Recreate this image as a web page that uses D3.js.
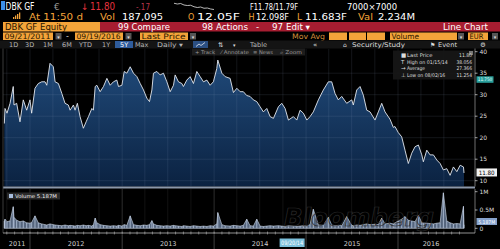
<!DOCTYPE html>
<html>
<head>
<meta charset="utf-8">
<script src="https://cdn.jsdelivr.net/npm/d3@7"></script>
<style>
  html, body { margin: 0; padding: 0; background: #000; overflow: hidden; }
  svg { display: block; font-family: 'DejaVu Sans', 'Liberation Sans', sans-serif; }
</style>
</head>
<body>
<script>
// price history (dates as decimal years)
const priceDates = [
  2011.721, 2011.728, 2011.750, 2011.783, 2011.818, 2011.826, 2011.855, 2011.891, 2011.927, 2011.964,
  2012.000, 2012.018, 2012.054, 2012.090, 2012.127, 2012.163, 2012.182, 2012.217, 2012.253, 2012.272,
  2012.308, 2012.345, 2012.380, 2012.416, 2012.435, 2012.471, 2012.489, 2012.514, 2012.543, 2012.579,
  2012.609, 2012.634, 2012.671, 2012.688, 2012.707, 2012.725, 2012.761, 2012.797, 2012.834, 2012.870,
  2012.905, 2012.942, 2012.960, 2012.997, 2013.022, 2013.051, 2013.087, 2013.123, 2013.160, 2013.196,
  2013.232, 2013.268, 2013.297, 2013.323, 2013.340, 2013.377, 2013.413, 2013.449, 2013.486, 2013.522,
  2013.558, 2013.576, 2013.612, 2013.649, 2013.666, 2013.703, 2013.739, 2013.775, 2013.812, 2013.848,
  2013.884, 2013.921, 2013.957, 2013.992, 2014.029, 2014.040, 2014.084, 2014.120, 2014.174, 2014.210,
  2014.247, 2014.283, 2014.318, 2014.355, 2014.391, 2014.427, 2014.464, 2014.500, 2014.536, 2014.573,
  2014.609, 2014.645, 2014.699, 2014.736, 2014.772, 2014.808, 2014.862, 2014.899, 2014.935, 2014.971,
  2015.008, 2015.043, 2015.079, 2015.134, 2015.188, 2015.242, 2015.279, 2015.315, 2015.351, 2015.388,
  2015.442, 2015.497, 2015.514, 2015.551, 2015.587, 2015.623, 2015.660, 2015.696, 2015.750, 2015.786,
  2015.823, 2015.859, 2015.913, 2015.949, 2015.967, 2016.003, 2016.040, 2016.076, 2016.112, 2016.149,
  2016.185, 2016.221, 2016.258, 2016.275, 2016.312, 2016.348, 2016.384, 2016.421, 2016.457, 2016.492,
  2016.529, 2016.565, 2016.601, 2016.638, 2016.674, 2016.710, 2016.716,
];
const priceValues = [
  23.3, 26.8, 25.7, 28.0, 31.9, 27.6, 28.0, 23.7, 28.8, 26.4,
  28.8, 25.7, 31.5, 32.6, 33.0, 33.0, 32.2, 37.3, 36.5, 33.0,
  32.6, 30.3, 28.0, 27.6, 26.4, 27.6, 26.4, 28.0, 24.9, 22.2,
  23.7, 24.9, 26.8, 26.4, 31.9, 32.2, 30.7, 31.9, 33.8, 32.2,
  33.0, 33.4, 31.9, 32.2, 35.4, 35.0, 36.5, 35.0, 34.2, 32.6,
  31.1, 29.2, 28.4, 31.1, 35.0, 35.4, 34.6, 35.0, 33.0, 30.7,
  32.2, 34.6, 33.0, 32.6, 31.9, 33.4, 34.2, 32.6, 35.4, 34.2,
  33.0, 33.4, 32.2, 33.0, 36.1, 38.06, 35.0, 34.2, 33.8, 30.5,
  31.5, 30.7, 30.7, 29.8, 29.6, 28.8, 28.4, 27.2, 26.0, 26.8,
  24.9, 24.5, 27.2, 28.0, 26.8, 24.1, 24.9, 24.1, 26.4, 25.7,
  24.1, 24.9, 26.0, 28.8, 31.1, 33.0, 33.0, 30.3, 28.8, 29.6,
  28.0, 28.8, 27.6, 31.1, 31.9, 29.9, 26.4, 26.0, 24.1, 26.0,
  28.0, 26.0, 24.3, 22.4, 22.6, 21.2, 20.2, 17.1, 14.0, 16.4,
  17.9, 18.3, 16.0, 14.4, 17.1, 16.0, 16.0, 14.8, 14.0, 12.5,
  12.8, 11.25, 13.2, 12.1, 13.6, 13.2, 11.8,
];
// volume in axis units (top label = 1M)
const volumeValues = [
  0.20, 0.25, 0.18, 0.20, 0.59, 0.30, 0.22, 0.18, 0.20, 0.15,
  0.14, 0.16, 0.34, 0.15, 0.12, 0.10, 0.09, 0.12, 0.10, 0.09,
  0.08, 0.07, 0.09, 0.07, 0.08, 0.07, 0.06, 0.08, 0.07, 0.09,
  0.07, 0.08, 0.06, 0.10, 0.28, 0.15, 0.10, 0.08, 0.07, 0.06,
  0.07, 0.06, 0.08, 0.06, 0.10, 0.08, 0.34, 0.10, 0.08, 0.07,
  0.09, 0.08, 0.10, 0.21, 0.12, 0.08, 0.07, 0.06, 0.07, 0.06,
  0.08, 0.07, 0.06, 0.05, 0.07, 0.06, 0.05, 0.07, 0.06, 0.05,
  0.06, 0.05, 0.07, 0.06, 0.12, 0.43, 0.10, 0.07, 0.06, 0.08,
  0.07, 0.06, 0.08, 0.25, 0.07, 0.06, 0.25, 0.06, 0.05, 0.06,
  0.07, 0.06, 0.07, 0.06, 0.05, 0.07, 0.06, 0.05, 0.06, 0.07,
  0.06, 0.10, 0.52, 0.09, 0.08, 0.30, 0.09, 0.07, 0.08, 0.07,
  0.32, 0.08, 0.07, 0.09, 0.08, 0.10, 0.12, 0.10, 0.11, 0.10,
  0.28, 0.12, 0.14, 0.12, 0.15, 0.20, 0.25, 0.32, 0.22, 0.20,
  0.18, 0.35, 0.16, 0.15, 0.14, 0.13, 0.12, 0.14, 0.15, 0.97,
  0.20, 0.15, 0.12, 0.13, 0.12, 0.60, 0.10,
];
// intraday sparkline in the header
const intradayValues = [12.05, 12.02, 12.04, 11.98, 11.96, 11.97, 11.91, 11.88, 11.9, 11.85, 11.86, 11.82, 11.8];

const priceTicks = [10, 15, 20, 25, 30, 35, 40];
const volumeTicks = [0, 0.5, 1];
const volumeTickLabels = ['0', '0.5M', '1M'];
const yearLabels = ['2011', '2012', '2013', '2014', '2015', '2016'];
const legendRows = [
  { icon: '■', label: 'Last Price', value: '11.80' },
  { icon: 'T', label: 'High on 01/15/14', value: '38.056' },
  { icon: '→', label: 'Average', value: '27.366' },
  { icon: '⊥', label: 'Low on 08/02/16', value: '11.254' },
];
const rangeButtons = ['1D', '3D', '1M', '6M', 'YTD', '1Y', '5Y', 'Max'];

const width = 500;
const height = 249;
const orange = '#f3a43a';
const svg = d3.select('body').append('svg').attr('width', width).attr('height', height);

function fromYear(t) {
  const y = Math.floor(t);
  const a = new Date(y, 0, 1);
  const b = new Date(y + 1, 0, 1);
  return new Date(+a + (t - y) * (b - a));
}

function txt(g, x, y, s, fill, size, len, anchor) {
  const t = g.append('text')
    .attr('x', x)
    .attr('y', y)
    .attr('fill', fill)
    .attr('font-size', size)
    .attr('text-anchor', anchor || 'start')
    .text(s);
  if (len) t.attr('textLength', len).attr('lengthAdjust', 'spacingAndGlyphs');
  return t;
}

svg.append('rect').attr('width', width).attr('height', height).attr('fill', '#000');

const data = priceDates.map((d, i) => ({
  date: fromYear(d),
  price: priceValues[i],
  volume: volumeValues[i],
}));

const startDate = new Date(2011, 8, 21);
const endDate = new Date(2016, 8, 19);
const x = d3.scaleTime().domain([startDate, endDate]).range([4.3, 464]);
const yPrice = d3.scaleLinear().domain([10, 40]).range([180.7, 51.7]);
const yVol = d3.scaleLinear().domain([0, 1]).range([228.3, 191.7]);
const plotLeft = 3;
const plotRight = 475;
const priceBottom = 186.5;

// ---------- header ----------
const head = svg.append('g');
head.append('rect').attr('x', 1).attr('y', 1).attr('width', 4).attr('height', 9).attr('fill', '#3b8fe8');
txt(head, 5.5, 9.5, 'DBK GF', '#fff', 10, 29);
txt(head, 54, 9.5, '€', '#9a9a9a', 9);
txt(head, 81, 9.5, '↓', '#e6323e', 9);
txt(head, 90, 9.5, '11.80', '#e6323e', 10, 25);
txt(head, 136, 9.5, '-.17', '#b8344a', 9, 14);

const spark = head.append('g');
const sx = d3.scaleLinear().domain([0, intradayValues.length - 1]).range([174, 214]);
const sy = d3.scaleLinear().domain([11.78, 12.06]).range([10, 3]);
spark.append('path')
  .datum(intradayValues)
  .attr('fill', 'none')
  .attr('stroke', '#e6e6e6')
  .attr('stroke-width', 0.8)
  .attr('d', d3.line().x((d, i) => sx(i)).y(d => sy(d)));

txt(head, 250, 9.5, 'F11.78/11.79F', '#fff', 9, 48);
txt(head, 347, 9.5, '7000×7000', '#fff', 9, 50);

// signal bars
[2, 3.5, 5, 6.5].forEach((h, i) => {
  head.append('rect').attr('x', 13 + i * 2).attr('y', 19 - h).attr('width', 1.3).attr('height', h).attr('fill', orange);
});
txt(head, 29, 19.5, 'At 11:50 d', orange, 9, 54);
txt(head, 100, 19.5, 'Vol', orange, 9, 15);
txt(head, 122, 19.5, '187,095', '#fff', 9, 41);
txt(head, 188, 19.5, 'O', orange, 8);
txt(head, 197, 19.5, '12.05F', '#fff', 9, 43);
txt(head, 248.5, 19.5, 'H', orange, 8);
txt(head, 256, 19.5, '12.098F', '#fff', 9, 33);
txt(head, 297, 19.5, 'L', orange, 9);
txt(head, 305, 19.5, '11.683F', '#fff', 9, 42);
txt(head, 358, 19.5, 'Val', orange, 9, 15);
txt(head, 378, 19.5, '2.234M', '#fff', 9, 37);

// row 3: security / function bar
head.append('rect').attr('x', 3).attr('y', 22).attr('width', 97).attr('height', 9.5).attr('fill', orange);
txt(head, 5, 30, 'DBK GF Equity', '#2a1600', 8.5, 62);
head.append('rect').attr('x', 100).attr('y', 22).attr('width', 400).attr('height', 9.5).attr('fill', '#a61d31');
txt(head, 118, 30, '99 Compare', '#fff', 8.5, 52);
txt(head, 202, 30, '98 Actions', '#fff', 8.5, 46);
txt(head, 256, 30, '-', '#fff', 8.5);
txt(head, 272, 30, '97 Edit ▾', '#fff', 8.5, 38);
txt(head, 443, 30, 'Line Chart', '#fff', 8.5, 45);

// row 4: fields
function field(x0, w, label) {
  head.append('rect').attr('x', x0).attr('y', 32.5).attr('width', w).attr('height', 7.5).attr('fill', orange);
  if (label) txt(head, x0 + 1.5, 39, label, '#2a1600', 7.5, Math.min(w - 4, label.length * 4.6));
}
function dropdown(x0) {
  head.append('rect').attr('x', x0).attr('y', 33).attr('width', 6).attr('height', 6.5).attr('fill', '#555');
  txt(head, x0 + 3, 38.5, '▾', '#ddd', 5, null, 'middle');
}
field(3, 50, '09/21/2011');
dropdown(55.5);
txt(head, 66, 39, '-', '#ccc', 8);
field(75, 48, '09/19/2016');
dropdown(125.5);
field(140, 48, 'Last Price');
dropdown(190);
txt(head, 292, 39, 'Mov Avg', '#d58d3a', 7.5, 33);
field(329, 18);
field(349, 17);
field(367, 18);
field(390, 67, 'Volume');
dropdown(458);
field(468, 20, 'EUR');
dropdown(492);

// row 5: toolbar
head.append('rect').attr('x', 0).attr('y', 40.5).attr('width', width).attr('height', 8).attr('fill', '#141414');
const btnX = [9, 25, 43, 62, 79, 102, 120, 135];
rangeButtons.forEach((b, i) => {
  if (b === '5Y') {
    head.append('rect').attr('x', 115).attr('y', 41).attr('width', 18).attr('height', 7).attr('fill', '#2f5c9c');
  }
  txt(head, btnX[i], 47, b, b === '5Y' ? '#fff' : '#b8b8b8', 6.5);
});
txt(head, 157, 47, 'Daily ▾', '#b8b8b8', 6.5, 26);
head.append('rect').attr('x', 193).attr('y', 41).attr('width', 15).attr('height', 7).attr('fill', '#2b4f82');
head.append('path').attr('d', 'M196,46.5 L199,44 L201,45.5 L205,42.5').attr('fill', 'none').attr('stroke', '#fff').attr('stroke-width', 0.7);
txt(head, 218, 47, '⇅', '#ddd', 6.5);
txt(head, 233, 47, '▾', '#ddd', 5);
txt(head, 250, 47, 'Table', '#b8b8b8', 6.5, 17);
txt(head, 313, 47, '«', '#ddd', 7);
txt(head, 343, 47, '⌂', '#ddd', 6);
txt(head, 352, 47, 'Security/Study', '#ddd', 6.5, 53);
txt(head, 430, 47, '⚑', '#ddd', 6);
txt(head, 438, 47, 'Event', '#ddd', 6.5, 19);
txt(head, 480, 47, '⚙', '#ddd', 6.5);

// ---------- price panel ----------
const defs = svg.append('defs');
const grad = defs.append('linearGradient').attr('id', 'priceFill').attr('x1', 0).attr('y1', 0).attr('x2', 0).attr('y2', 1);
grad.append('stop').attr('offset', '0%').attr('stop-color', '#204a7a');
grad.append('stop').attr('offset', '100%').attr('stop-color', '#0b2241');

const price = svg.append('g');
price.append('path')
  .datum(data)
  .attr('fill', 'url(#priceFill)')
  .attr('d', d3.area().x(d => x(d.date)).y0(priceBottom).y1(d => yPrice(d.price)));

const quarters = d3.timeMonth.every(3).range(startDate, endDate);
const grid = svg.append('g').attr('stroke', 'rgba(150,165,190,0.22)').attr('stroke-width', 0.6);
grid.selectAll('.vq')
  .data(quarters)
  .enter()
  .append('line')
  .attr('x1', d => x(d)).attr('x2', d => x(d))
  .attr('y1', 49).attr('y2', priceBottom);
grid.selectAll('.hq')
  .data(priceTicks.filter(t => t < 40))
  .enter()
  .append('line')
  .attr('x1', plotLeft).attr('x2', plotRight)
  .attr('y1', d => yPrice(d)).attr('y2', d => yPrice(d));

price.append('path')
  .datum(data)
  .attr('fill', 'none')
  .attr('stroke', '#e4e9ef')
  .attr('stroke-width', 0.9)
  .attr('stroke-linejoin', 'round')
  .attr('d', d3.line().x(d => x(d.date)).y(d => yPrice(d.price)));

// track / annotate strip
head.append('rect').attr('x', 192).attr('y', 48.5).attr('width', 113).attr('height', 7).attr('fill', '#1d1d1d');
txt(head, 195, 54, '+ Track', '#9a9a9a', 5, 20);
txt(head, 221, 54, '⁄ Annotate', '#9a9a9a', 5, 28);
txt(head, 253, 54, '≡ News', '#9a9a9a', 5, 20);
txt(head, 280, 54, '⌕ Zoom', '#9a9a9a', 5, 22);

// legend box
const lg = svg.append('g');
lg.append('rect').attr('x', 393).attr('y', 50.5).attr('width', 81).attr('height', 29).attr('fill', '#171717').attr('opacity', 0.92);
lg.append('rect').attr('x', 469).attr('y', 51).attr('width', 4).attr('height', 4).attr('fill', '#777');
legendRows.forEach((r, i) => {
  const yy = 57 + i * 6.6;
  txt(lg, 401, yy, r.icon, '#ddd', 5.5);
  txt(lg, 407, yy, r.label, '#ddd', 5, r.label.length * 2.55);
  txt(lg, 472, yy, r.value, '#ddd', 5, r.value.length * 2.6, 'end');
});

// price axis
const pAxis = svg.append('g');
pAxis.append('line').attr('x1', plotRight).attr('x2', plotRight).attr('y1', 48.5).attr('y2', priceBottom).attr('stroke', '#bbb').attr('stroke-width', 0.6);
pAxis.selectAll('.pt')
  .data(priceTicks)
  .enter()
  .append('line')
  .attr('x1', plotRight).attr('x2', plotRight + 2.5)
  .attr('y1', d => yPrice(d)).attr('y2', d => yPrice(d))
  .attr('stroke', '#ddd').attr('stroke-width', 0.7);
pAxis.selectAll('.pl')
  .data(priceTicks)
  .enter()
  .append('text')
  .attr('x', 479.5)
  .attr('y', d => yPrice(d) + 2.2)
  .attr('fill', '#ddd')
  .attr('font-size', 6)
  .text(d => d);

// right-hand value boxes
svg.append('rect').attr('x', 476.5).attr('y', 76.3).attr('width', 17).attr('height', 6.5).attr('fill', '#2a9f9c');
txt(svg, 485, 81.4, '11.750', '#e8ffff', 4.8, 14.5, 'middle');
svg.append('rect').attr('x', 476.5).attr('y', yPrice(11.8) - 4.5).attr('width', 20.5).attr('height', 8).attr('fill', '#f2f2f2');
txt(svg, 486.7, yPrice(11.8) + 2, '11.80', '#000', 6, 16, 'middle');

// separator between panels
svg.append('rect').attr('x', plotLeft).attr('y', priceBottom).attr('width', plotRight - plotLeft).attr('height', 2).attr('fill', '#8c98aa');
svg.append('line').attr('x1', 3).attr('x2', 3).attr('y1', 48.5).attr('y2', 233).attr('stroke', '#4a4a4a').attr('stroke-width', 0.8);

// ---------- volume panel ----------
const vol = svg.append('g');
vol.selectAll('.vg')
  .data(quarters)
  .enter()
  .append('line')
  .attr('x1', d => x(d)).attr('x2', d => x(d))
  .attr('y1', 189).attr('y2', 233)
  .attr('stroke', d => (d.getMonth() === 0 ? 'rgba(170,170,170,0.45)' : 'rgba(120,120,120,0.25)'))
  .attr('stroke-width', 0.6);

// faint watermark
svg.append('text')
  .attr('x', 284)
  .attr('y', 226)
  .attr('font-size', 24)
  .attr('font-weight', 'bold')
  .attr('font-style', 'italic')
  .attr('fill', 'none')
  .attr('stroke', '#2b2b2b')
  .attr('stroke-width', 0.7)
  .attr('textLength', 150)
  .attr('lengthAdjust', 'spacingAndGlyphs')
  .text('Bloomberg');

vol.append('path')
  .datum(data)
  .attr('fill', '#8ea9d0')
  .attr('fill-opacity', 0.6)
  .attr('stroke', '#d2ddec')
  .attr('stroke-width', 0.6)
  .attr('d', d3.area().x(d => x(d.date)).y0(yVol(0)).y1(d => yVol(d.volume)));
vol.selectAll('.vb')
  .data(data)
  .enter()
  .append('rect')
  .attr('x', d => x(d.date) - 0.5)
  .attr('width', 1)
  .attr('y', d => yVol(d.volume))
  .attr('height', d => yVol(0) - yVol(d.volume))
  .attr('fill', '#c3d2e8')
  .attr('opacity', 0.7);

// volume legend
svg.append('rect').attr('x', 7).attr('y', 192.5).attr('width', 53).attr('height', 7).attr('fill', '#2a2a2a');
svg.append('rect').attr('x', 9).attr('y', 194).attr('width', 4).attr('height', 4).attr('fill', '#a7bddc');
txt(svg, 15, 198.3, 'Volume 5.187M', '#eee', 5, 42);

// volume axis
svg.append('line').attr('x1', plotRight).attr('x2', plotRight).attr('y1', 189).attr('y2', 233).attr('stroke', '#bbb').attr('stroke-width', 0.6);
svg.selectAll('.vt')
  .data(volumeTicks)
  .enter()
  .append('line')
  .attr('x1', plotRight).attr('x2', plotRight + 2.5)
  .attr('y1', d => yVol(d)).attr('y2', d => yVol(d))
  .attr('stroke', '#ddd').attr('stroke-width', 0.7);
svg.selectAll('.vl')
  .data(volumeTicks)
  .enter()
  .append('text')
  .attr('x', 479.5)
  .attr('y', d => yVol(d) + 2.2)
  .attr('fill', '#ddd')
  .attr('font-size', 6)
  .text((d, i) => volumeTickLabels[i]);
svg.append('rect').attr('x', 476.5).attr('y', 218).attr('width', 20.5).attr('height', 7).attr('fill', '#86a2cc');
txt(svg, 486.7, 223.6, '5.187M', '#fff', 5, 17, 'middle');

// ---------- time axis ----------
const months = d3.timeMonth.range(startDate, endDate);
svg.append('line').attr('x1', plotLeft).attr('x2', plotRight).attr('y1', 233).attr('y2', 233).attr('stroke', '#cfcfcf').attr('stroke-width', 0.7);
svg.selectAll('.mt')
  .data(months)
  .enter()
  .append('line')
  .attr('x1', d => x(d)).attr('x2', d => x(d))
  .attr('y1', 231.5).attr('y2', 234.5)
  .attr('stroke', '#cfcfcf').attr('stroke-width', 0.5);

const yearStarts = yearLabels.slice(1).map(y => new Date(+y, 0, 1));
svg.selectAll('.ys')
  .data(yearStarts)
  .enter()
  .append('line')
  .attr('x1', d => x(d)).attr('x2', d => x(d))
  .attr('y1', 235).attr('y2', 249)
  .attr('stroke', '#5a5a5a').attr('stroke-width', 0.7);
svg.selectAll('.yl')
  .data(yearLabels)
  .enter()
  .append('text')
  .attr('x', d => {
    const a = Math.max(+new Date(+d, 0, 1), +startDate);
    const b = Math.min(+new Date(+d + 1, 0, 1), +endDate);
    return (x(new Date(a)) + x(new Date(b))) / 2;
  })
  .attr('y', 246)
  .attr('text-anchor', 'middle')
  .attr('fill', '#cfcfcf')
  .attr('font-size', 6.5)
  .text(d => d);

// crosshair date tag
const tagDate = new Date(2014, 8, 20);
svg.append('rect').attr('x', x(tagDate) - 0.5).attr('y', 238.5).attr('width', 25).attr('height', 8.5).attr('fill', '#7cc0dc');
txt(svg, x(tagDate) + 12, 245.3, '09/20/14', '#fff', 6, 22, 'middle');
</script>
</body>
</html>
